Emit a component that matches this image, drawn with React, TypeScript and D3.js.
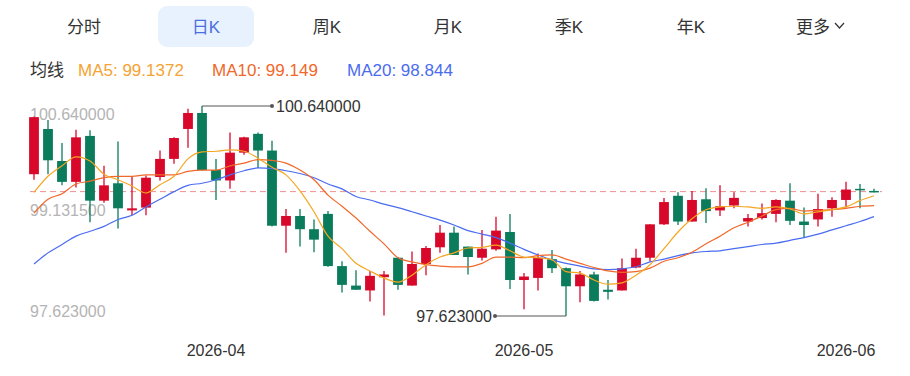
import React from "react";
import * as d3 from "d3";

// daily K data
const opens = [
  99.66, 100.31, 99.85, 99.55, 100.21, 99.28, 99.53, 99.14, 99.18, 99.62,
  99.88, 100.31, 100.54, 99.72, 99.57, 99.97, 100.24, 100.0, 98.92, 99.06,
  98.87, 99.09, 98.34, 98.06, 97.99, 98.18, 98.46, 98.06, 98.37, 98.61,
  98.82, 98.62, 98.46, 98.58, 98.83, 98.14, 98.17, 98.44, 98.31, 98.05,
  98.22, 98.0, 97.99, 98.32, 98.46, 98.94, 99.35, 98.98, 99.3, 99.14,
  99.21, 98.98, 99.03, 99.09, 99.28, 98.98, 99.01, 99.17, 99.29, 99.45, 99.42,
];
const closes = [
  100.48, 99.86, 99.55, 100.19, 99.28, 99.5, 99.17, 99.17, 99.61, 99.88,
  100.18, 100.54, 99.72, 99.57, 99.97, 100.19, 100.0, 98.92, 99.06, 98.87,
  98.72, 98.34, 98.07, 98.0, 98.2, 98.22, 98.07, 98.37, 98.6, 98.82,
  98.5, 98.47, 98.59, 98.85, 98.14, 98.19, 98.46, 98.31, 98.05, 98.22,
  97.84, 97.97, 98.31, 98.46, 98.94, 99.26, 98.98, 99.29, 99.13, 99.2,
  99.32, 99.03, 99.1, 99.29, 98.99, 98.93, 99.16, 99.29, 99.44, 99.43, 99.41,
];
const highs = [
  100.49, 100.44, 100.11, 100.3, 100.29, 99.78, 100.13, 99.62, 99.64, 100.0,
  100.19, 100.6, 100.64, 99.88, 100.26, 100.2, 100.26, 100.14, 99.16, 99.16,
  99.01, 99.13, 98.41, 98.28, 98.27, 98.27, 98.47, 98.55, 98.63, 98.93,
  98.91, 98.62, 98.86, 99.05, 99.09, 98.24, 98.52, 98.57, 98.32, 98.27,
  98.26, 98.14, 98.45, 98.59, 98.94, 99.32, 99.4, 99.42, 99.46, 99.5,
  99.4, 99.09, 99.24, 99.3, 99.53, 99.18, 99.38, 99.33, 99.55, 99.52, 99.45,
];
const lows = [
  99.58, 99.66, 99.5, 99.47, 98.97, 99.25, 98.88, 99.07, 99.07, 99.57,
  99.81, 100.04, 99.71, 99.29, 99.45, 99.94, 99.75, 98.91, 98.53, 98.62,
  98.54, 98.33, 97.96, 98.0, 97.83, 97.63, 98.0, 98.06, 98.21, 98.53,
  98.5, 98.22, 98.42, 98.56, 98.01, 97.72, 97.99, 98.24, 97.623, 97.82,
  97.83, 97.86, 97.99, 98.31, 98.41, 98.93, 98.93, 98.98, 98.96, 99.06,
  99.17, 98.91, 99.01, 98.97, 98.93, 98.75, 98.91, 99.05, 99.18, 99.17, 99.4,
];

const ma5 = [
  99.4, 99.63, 99.78, 99.91, 99.85, 99.66, 99.58, 99.49, 99.39, 99.51,
  99.63, 99.88, 99.98, 99.99, 100.01, 99.99, 99.89, 99.76, 99.65, 99.42,
  99.12, 98.77, 98.59, 98.38, 98.27, 98.17, 98.11, 98.21, 98.36, 98.47,
  98.53, 98.6, 98.61, 98.64, 98.56, 98.47, 98.46, 98.43, 98.26, 98.24,
  98.14, 98.08, 98.1, 98.21, 98.36, 98.59, 98.83, 99.02, 99.15, 99.19,
  99.2, 99.19, 99.17, 99.19, 99.16, 99.09, 99.12, 99.15, 99.19, 99.28, 99.35,
];
const ma10 = [
  99.1, 99.3, 99.38, 99.52, 99.56, 99.61, 99.63, 99.63, 99.65, 99.65,
  99.65, 99.7, 99.72, 99.72, 99.78, 99.82, 99.87, 99.86, 99.82, 99.72,
  99.58, 99.36, 99.2, 99.03, 98.84, 98.66, 98.46, 98.4, 98.36, 98.34,
  98.33, 98.33, 98.38, 98.47, 98.47, 98.46, 98.49, 98.5, 98.44, 98.38,
  98.32, 98.27, 98.25, 98.26, 98.31, 98.41, 98.46, 98.54, 98.66, 98.77,
  98.89, 98.97, 99.06, 99.15, 99.17, 99.13, 99.14, 99.15, 99.17, 99.2, 99.21,
];
const ma20 = [
  98.37, 98.53, 98.65, 98.77, 98.84, 98.91, 99.01, 99.07, 99.19, 99.3,
  99.41, 99.5, 99.53, 99.58, 99.65, 99.71, 99.75, 99.74, 99.71, 99.67,
  99.61, 99.52, 99.45, 99.34, 99.29, 99.23, 99.18, 99.12, 99.06, 99.0,
  98.93, 98.85, 98.8, 98.75, 98.67, 98.58, 98.5, 98.43, 98.38, 98.34,
  98.3, 98.29, 98.3, 98.33, 98.4, 98.44, 98.49, 98.53, 98.55, 98.56,
  98.59, 98.62, 98.65, 98.67, 98.71, 98.75, 98.8, 98.86, 98.92, 98.98, 99.05,
];

const dateLabels = ["2026-04", "2026-05", "2026-06"];
const dateLabelIdx = [13, 35, 58];

const tabs = ["分时", "日K", "周K", "月K", "季K", "年K", "更多"];
const tabX = [84, 206, 327, 448, 569, 691, 813];
const activeTab = 1;

const legendNames = ["MA5: 99.1372", "MA10: 99.149", "MA20: 98.844"];
const legendColors = ["#f5a331", "#f0682a", "#4a6cf0"];
const legendX = [78, 212, 347];

const RED = "#d8082b";
const GREEN = "#0a7c5c";
const FONT = "'Liberation Sans', 'Noto Sans CJK SC', sans-serif";

export default function App() {
  const idx = d3.range(closes.length);
  const x = d3.scaleBand<number>().domain(idx).range([27, 881]).paddingInner(0.3).paddingOuter(0.15);
  const cx = (i: number) => (x(i) as number) + x.bandwidth() / 2;

  const lo = d3.min(lows) as number;
  const hi = d3.max(highs) as number;
  const y = d3.scaleLinear().domain([lo, hi]).range([316, 106]);

  const line = d3
    .line<number>()
    .x((_, i) => cx(i))
    .y((d) => y(d))
    .curve(d3.curveMonotoneX);

  const hiIdx = highs.indexOf(hi);
  const loIdx = lows.indexOf(lo);
  const lastClose = closes[closes.length - 1];

  return (
    <svg width={910} height={376} style={{ position: "absolute", left: 0, top: 0, background: "#fff" }} fontFamily={FONT}>
      {/* tabs */}
      <rect x={158} y={6} width={96} height={41} rx={9} fill="#e8f1fe" />
      {tabs.map((t, i) => (
        <text key={t} x={tabX[i]} y={33} fontSize={17} textAnchor="middle" fill={i === activeTab ? "#4b6fe0" : "#333"}>
          {t}
        </text>
      ))}
      <polyline points="835,23 839.5,28 844,23" fill="none" stroke="#333" strokeWidth={1.2} />

      {/* legend */}
      <text x={30} y={76} fontSize={17} fill="#333">均线</text>
      {legendNames.map((n, i) => (
        <text key={n} x={legendX[i]} y={76} fontSize={17} fill={legendColors[i]}>
          {n}
        </text>
      ))}

      {/* y labels */}
      <g fontSize={16} fill="#b4b4b4">
        <text x={30} y={y(hi) + 14}>{hi.toFixed(6)}</text>
        <text x={30} y={y((hi + lo) / 2) + 5}>{((hi + lo) / 2).toFixed(6)}</text>
        <text x={30} y={y(lo) + 1}>{lo.toFixed(6)}</text>
      </g>

      {/* last close line */}
      <line x1={30} x2={882} y1={y(lastClose)} y2={y(lastClose)} stroke="#ef8f8f" strokeDasharray="6,4" strokeWidth={1} />

      {/* candles */}
      {idx.map((i) => {
        const up = closes[i] >= opens[i];
        const c = up ? RED : GREEN;
        const top = y(Math.max(opens[i], closes[i]));
        const bot = y(Math.min(opens[i], closes[i]));
        return (
          <g key={i}>
            <line x1={cx(i)} x2={cx(i)} y1={y(highs[i])} y2={y(lows[i])} stroke={c} strokeWidth={1.3} />
            <rect x={x(i)} y={top} width={x.bandwidth()} height={Math.max(bot - top, 1.5)} fill={c} />
          </g>
        );
      })}

      {/* moving averages */}
      <path d={line(ma20) || ""} fill="none" stroke="#4a6cf0" strokeWidth={1.2} />
      <path d={line(ma10) || ""} fill="none" stroke="#f0682a" strokeWidth={1.2} />
      <path d={line(ma5) || ""} fill="none" stroke="#f5a623" strokeWidth={1.2} />

      {/* high / low markers */}
      <g stroke="#555" strokeWidth={1} fill="#555">
        <line x1={cx(hiIdx)} x2={272} y1={y(hi)} y2={y(hi)} />
        <circle cx={272} cy={y(hi)} r={2} stroke="none" />
        <line x1={cx(loIdx)} x2={495} y1={y(lo)} y2={y(lo)} />
        <circle cx={495} cy={y(lo)} r={2} stroke="none" />
      </g>
      <text x={276} y={y(hi) + 6} fontSize={16} fill="#333">{hi.toFixed(6)}</text>
      <text x={492} y={y(lo) + 6} fontSize={16} fill="#333" textAnchor="end">{lo.toFixed(6)}</text>

      {/* date axis */}
      {dateLabels.map((d, k) => (
        <text key={d} x={cx(dateLabelIdx[k])} y={356} fontSize={16} fill="#333" textAnchor="middle">
          {d}
        </text>
      ))}
    </svg>
  );
}
